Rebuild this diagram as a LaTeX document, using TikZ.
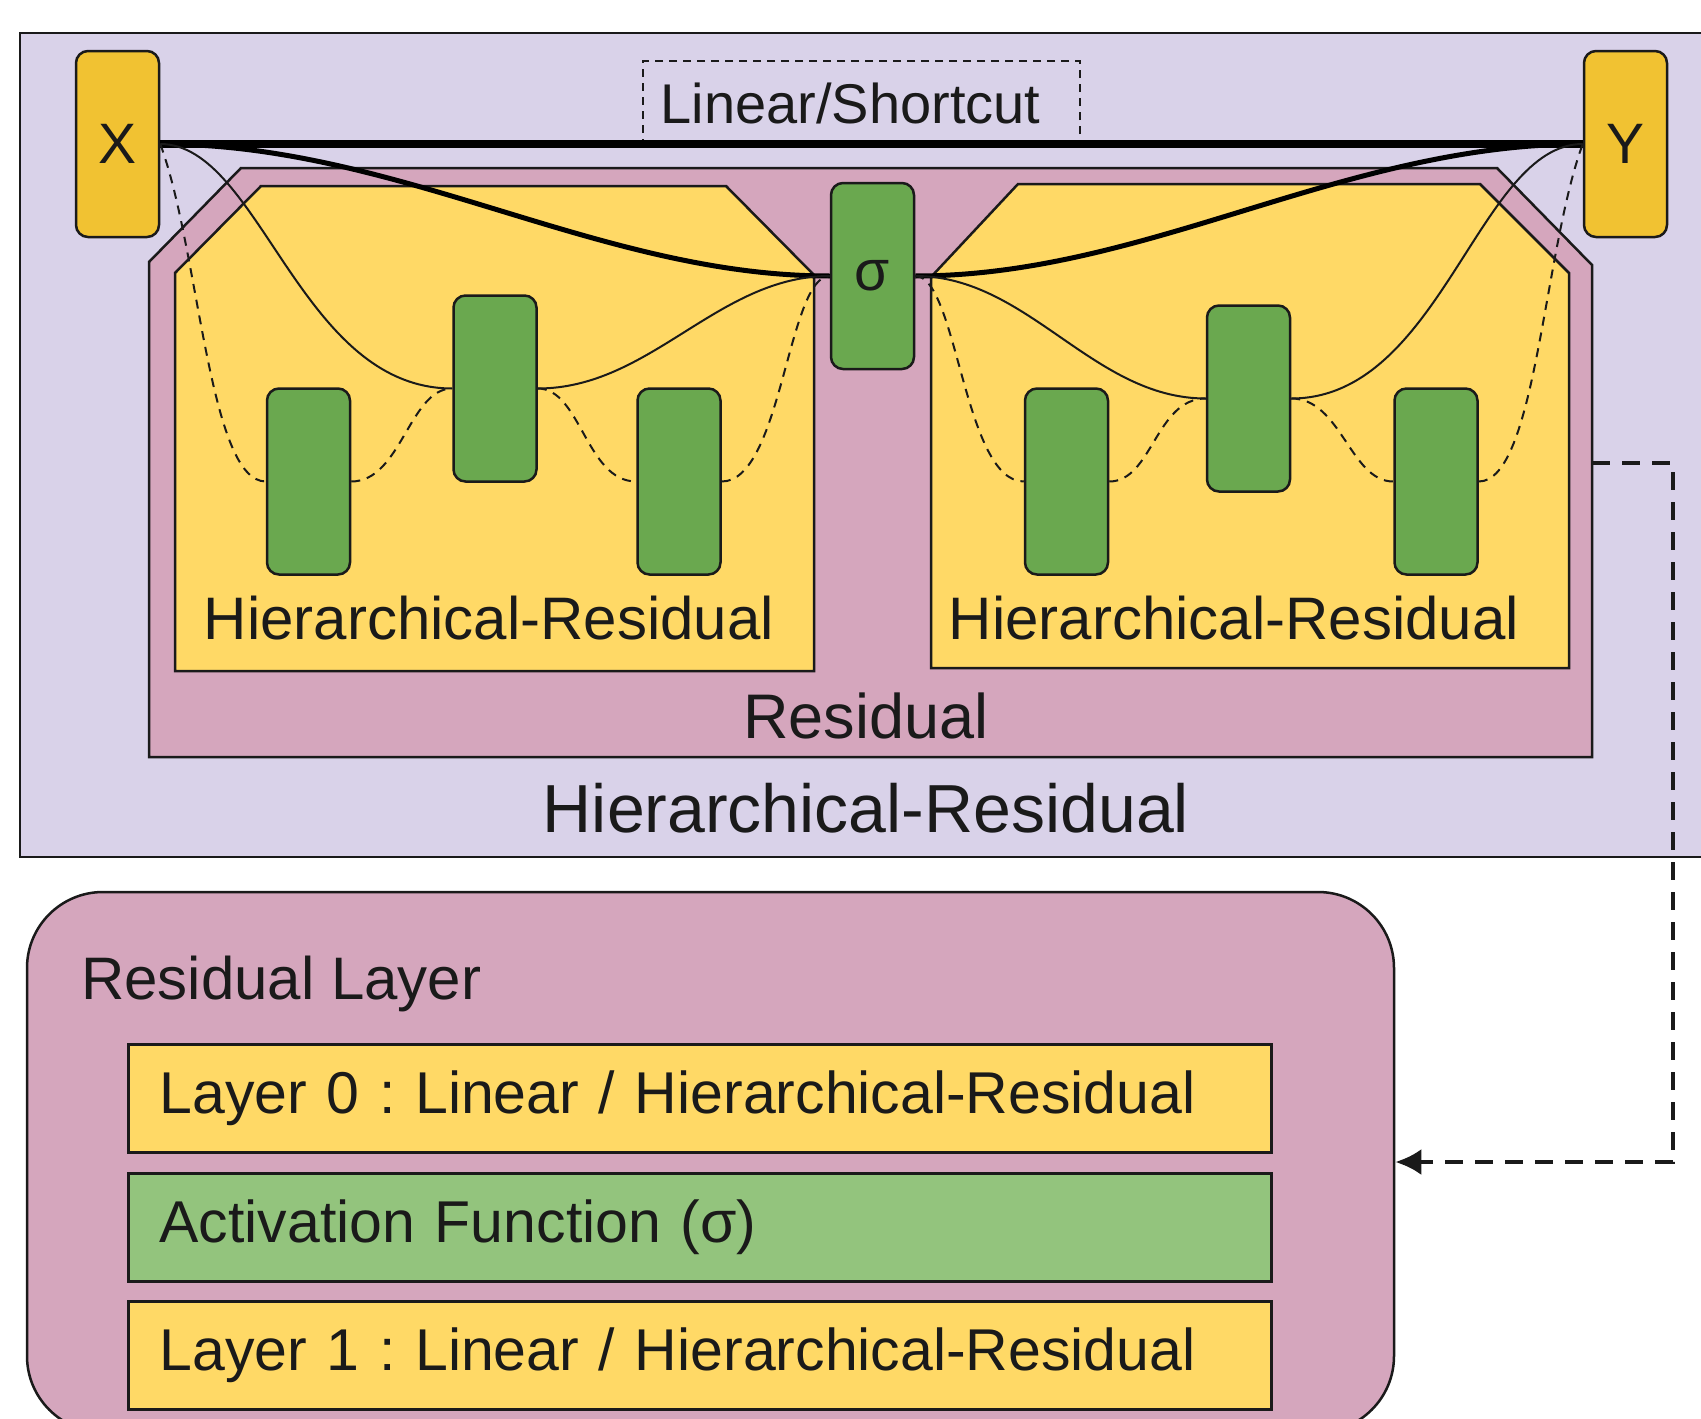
\documentclass[tikz,border=0pt]{standalone}
\usepackage{fontspec}
\setmainfont{Liberation Sans}
\usetikzlibrary{arrows.meta}
\definecolor{lav}{HTML}{D9D2E9}
\definecolor{pnk}{HTML}{D5A6BD}
\definecolor{ylw}{HTML}{FFD966}
\definecolor{grn}{HTML}{6AA84F}
\definecolor{lgrn}{HTML}{93C47D}
\definecolor{gold}{HTML}{F1C232}
\definecolor{edge}{HTML}{1A1A1A}
\frenchspacing
\begin{document}
\begin{tikzpicture}[x=1pt,y=-1pt,
  every node/.style={text=edge},
  smallbox/.style={draw=edge, line width=2.5pt, rounded corners=12pt, minimum width=83pt, minimum height=186pt, inner sep=0pt, font=\fontsize{57}{64}\selectfont},
  gbox/.style={smallbox, fill=grn},
  iobox/.style={smallbox, fill=gold},
  region/.style={draw=edge, line width=2.5pt},
  conn/.style={draw=edge, line width=2pt},
  dconn/.style={draw=edge, line width=2pt, dash pattern=on 9pt off 7pt},
  heavy/.style={draw=black, line width=5pt},
  lbl/.style={inner sep=0pt, font=\fontsize{60}{70}\selectfont},
  rowbox/.style={draw=edge, line width=3pt, minimum width=1143pt, minimum height=108pt, inner xsep=31pt, text width=1080pt, align=left, font=\fontsize{59}{68}\selectfont}
]
\clip (0,0) rectangle (1701,1419);
\fill[white] (0,0) rectangle (1701,1419);

% outer hierarchical-residual block
\draw[region, fill=lav] (20,33) rectangle (1720,857);
% residual polygon
\draw[region, fill=pnk] (241,168) -- (1497,168) -- (1592,265) -- (1592,757) -- (149,757) -- (149,262) -- cycle;
% inner yellow polygons
\draw[region, fill=ylw] (261,186) -- (726,186) -- (814,275) -- (814,671) -- (175,671) -- (175,273) -- cycle;
\draw[region, fill=ylw] (1018,184) -- (1480,184) -- (1569,273) -- (1569,668) -- (931,668) -- (931,277) -- cycle;

% dashed shortcut label box
\node[draw=edge, line width=2.2pt, dash pattern=on 8pt off 6pt, minimum width=437pt, minimum height=84pt, inner sep=0pt, font=\fontsize{56}{64}\selectfont] (lsc) at (861.5,103) {\hspace*{-22pt}Linear/Shortcut};

% nodes
\node[iobox] (X) at (117.5,144) {X};
\node[iobox] (Y) at (1625.5,144) {Y};
\node[gbox] (sigma) at (872.5,276) {σ};
\node[gbox] (g1) at (308.5,481.5) {};
\node[gbox] (g2) at (495,388.5) {};
\node[gbox] (g3) at (679,481.5) {};
\node[gbox] (g4) at (1066.5,481.5) {};
\node[gbox] (g5) at (1248.5,398.5) {};
\node[gbox] (g6) at (1436,481.5) {};

% connectors
\draw[line width=8pt, draw=black] (X.east) -- (Y.west);
\draw[heavy] (X.east) .. controls +(240,0) and +(-232,0) .. (sigma.west);
\draw[heavy] (sigma.east) .. controls +(232,0) and +(-240,0) .. (Y.west);
\draw[conn] (X.east) .. controls +(100,0) and +(-153,0) .. (g2.west);
\draw[conn] (g2.east) .. controls +(113,0) and +(-112,0) .. (sigma.west);
\draw[conn] (sigma.east) .. controls +(113,0) and +(-113,0) .. (g5.west);
\draw[conn] (g5.east) .. controls +(150,0) and +(-104,0) .. (Y.west);
\draw[dconn] (X.east) .. controls +(39,105) and +(-57,0) .. (g1.west);
\draw[dconn] (g1.east) .. controls +(50,0) and +(-43,0) .. (g2.west);
\draw[dconn] (g2.east) .. controls +(43,0) and +(-50,0) .. (g3.west);
\draw[dconn] (g3.east) .. controls +(60,0) and +(-42,0) .. (sigma.west);
\draw[dconn] (sigma.east) .. controls +(42,0) and +(-60,0) .. (g4.west);
\draw[dconn] (g4.east) .. controls +(43,0) and +(-50,0) .. (g5.west);
\draw[dconn] (g5.east) .. controls +(50,0) and +(-43,0) .. (g6.west);
\draw[dconn] (g6.east) .. controls +(57,0) and +(-39,105) .. (Y.west);

% region labels
\node[lbl] (hrL) at (489,618) {Hierarchical-Residual};
\node[lbl] (hrR) at (1234,618) {Hierarchical-Residual};
\node[lbl, font=\fontsize{63}{72}\selectfont] (res) at (866,716) {Residual};
\node[lbl, font=\fontsize{68}{78}\selectfont] (hrO) at (866,808) {Hierarchical-Residual};

% residual layer detail
\node[draw=edge, line width=2.5pt, fill=pnk, rounded corners=76pt, minimum width=1367pt, minimum height=540pt, inner sep=0pt] (rl) at (710.5,1162) {};
\node[lbl, anchor=west] (rlt) at (81,984) {Residual Layer};
\node[rowbox, fill=ylw] (r0) at (699.5,1098) {Layer 0 : Linear / Hierarchical-Residual};
\node[rowbox, fill=lgrn] (ra) at (699.5,1227) {Activation Function (σ)};
\node[rowbox, fill=ylw] (r1) at (699.5,1355) {Layer 1 : Linear / Hierarchical-Residual};

% dashed pointer
\coordinate (pinkR) at (1592,463);
\draw[draw=edge, line width=4.5pt, dash pattern=on 18pt off 12pt, -{Latex[length=26pt,width=26pt]}] (pinkR) -- ++(81,0) |- (rl.east);
\end{tikzpicture}
\end{document}
